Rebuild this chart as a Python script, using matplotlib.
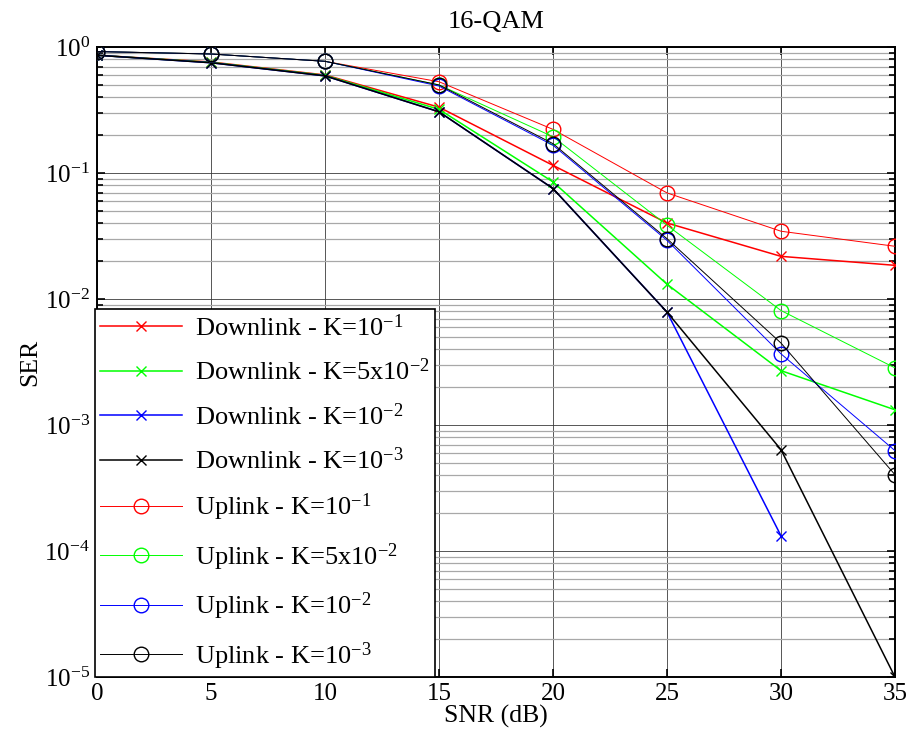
import numpy as np
import matplotlib
matplotlib.use("Agg")
import matplotlib.pyplot as plt
from matplotlib.ticker import LogLocator, FixedLocator, FuncFormatter, NullFormatter

plt.rcParams['font.family'] = ['Liberation Serif', 'DejaVu Serif']
plt.rcParams['mathtext.fontset'] = 'custom'
plt.rcParams['mathtext.rm'] = 'Liberation Serif'
plt.rcParams['mathtext.it'] = 'Liberation Serif:italic'

snr_db = [0, 5, 10, 15, 20, 25, 30, 35]

dl_k1e1 = [0.86, 0.76, 0.60, 0.333, 0.115, 0.0401, 0.0218, 0.0185]
dl_k5e2 = [0.86, 0.755, 0.595, 0.320, 0.085, 0.0131, 0.0027, 0.00132]
dl_k1e2 = [0.86, 0.75, 0.59, 0.306, 0.0753, 0.00787, 0.000132, np.nan]
dl_k1e3 = [0.86, 0.75, 0.59, 0.306, 0.0753, 0.00787, 0.000637, 1.0e-5]

ul_k1e1 = [0.92, 0.88, 0.77, 0.53, 0.222, 0.0695, 0.0345, 0.0262]
ul_k5e2 = [0.92, 0.88, 0.77, 0.50, 0.194, 0.0385, 0.0081, 0.00284]
ul_k1e2 = [0.92, 0.88, 0.77, 0.49, 0.166, 0.0292, 0.00367, 0.000626]
ul_k1e3 = [0.92, 0.88, 0.77, 0.50, 0.171, 0.0301, 0.00447, 0.000403]

labels = [
    r'Downlink - K=10$^{\mathregular{-1}}$',
    r'Downlink - K=5x10$^{\mathregular{-2}}$',
    r'Downlink - K=10$^{\mathregular{-2}}$',
    r'Downlink - K=10$^{\mathregular{-3}}$',
    r'Uplink - K=10$^{\mathregular{-1}}$',
    r'Uplink - K=5x10$^{\mathregular{-2}}$',
    r'Uplink - K=10$^{\mathregular{-2}}$',
    r'Uplink - K=10$^{\mathregular{-3}}$',
]
colors = ['#ff0000', '#00ff00', '#0000ff', '#000000']

fig = plt.figure(figsize=(9.10, 7.46), dpi=100)
ax = fig.add_axes([0.1066, 0.0925, 0.8769, 0.8445])

dl_series = [dl_k1e1, dl_k5e2, dl_k1e2, dl_k1e3]
ul_series = [ul_k1e1, ul_k5e2, ul_k1e2, ul_k1e3]

for ys, c, lab in zip(dl_series, colors, labels[:4]):
    ax.plot(snr_db, ys, color=c, lw=1.1, marker='x', markersize=6.5,
            markeredgewidth=1.0, label=lab, zorder=3)
for ys, c, lab in zip(ul_series, colors, labels[4:]):
    ax.plot(snr_db, ys, color=c, lw=0.7, marker='o', markersize=10.5,
            markerfacecolor='none', markeredgewidth=1.0, label=lab, zorder=3)

ax.set_yscale('log')
ax.set_xlim(0, 35)
ax.set_ylim(1e-5, 1)
ax.xaxis.set_major_locator(FixedLocator(snr_db))
ax.yaxis.set_major_locator(LogLocator(base=10, numticks=10))
ax.yaxis.set_minor_locator(LogLocator(base=10, subs=np.arange(2, 10), numticks=50))
ax.yaxis.set_minor_formatter(NullFormatter())
ax.yaxis.set_major_formatter(FuncFormatter(
    lambda v, p: r'10$^{\mathregular{%d}}$' % int(round(np.log10(v)))))

ax.grid(True, which='major', axis='both', color='#3a3a3a', lw=0.6, ls='-', zorder=1)
ax.grid(True, which='minor', axis='y', color='#a8a8a8', lw=0.9, ls='-', zorder=1)

ax.tick_params(which='both', direction='in', top=True, right=True,
               labelsize=18, width=1.2)
ax.tick_params(which='major', length=6, pad=5)
ax.tick_params(axis='x', which='major', pad=4)
ax.tick_params(which='minor', length=4)
for s in ax.spines.values():
    s.set_linewidth(1.4)

ax.set_title('16-QAM', fontsize=19, pad=14)
ax.set_xlabel('SNR (dB)', fontsize=18.5, labelpad=0)
ax.set_ylabel('SER', fontsize=18.5, labelpad=2)

leg = ax.legend(loc='lower left', bbox_to_anchor=(-0.003, 0.0), fontsize=19,
                frameon=True, fancybox=False, framealpha=1.0, edgecolor='black',
                handlelength=3.1, handletextpad=0.5, labelspacing=0.68,
                borderpad=0.2, borderaxespad=0.0)
leg.get_frame().set_linewidth(1.2)
leg.set_zorder(5)

fig.savefig('out.png', dpi=100)
